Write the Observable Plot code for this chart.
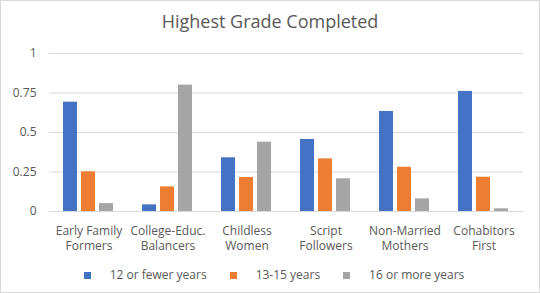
<!DOCTYPE html>
<html>
<head>
<meta charset="utf-8">
<script src="https://cdn.jsdelivr.net/npm/d3@7"></script>
<script src="https://cdn.jsdelivr.net/npm/@observablehq/plot@0.6"></script>
<style>
  html, body { margin: 0; padding: 0; background: #fff; }
  #wrap { position: relative; width: 540px; height: 293px; background: #fff; font-family: "Open Sans", sans-serif; color: #595959; overflow: hidden; }
  #border { position: absolute; left: 0; top: 0; right: 0; bottom: 0; border: 1px solid #d9d9d9; pointer-events: none; }
  #title { position: absolute; left: 0; top: 12px; width: 540px; text-align: center; font-size: 18px; line-height: 18px; color: #595959; }
  #chart { position: absolute; left: 0; top: 40px; }
  #legend { position: absolute; left: 4px; top: 267px; width: 540px; display: flex; justify-content: center; font-size: 12px; line-height: 16px; color: #595959; }
  .item { display: flex; align-items: center; margin: 0 11.5px; }
  .sw { width: 7px; height: 7px; margin-right: 19px; }
</style>
</head>
<body>
<div id="wrap">
  <div id="title">Highest Grade Completed</div>
  <div id="chart"></div>
  <div id="legend"></div>
  <div id="border"></div>
</div>
<script>
const categories = ["Early Family Formers", "College-Educ. Balancers", "Childless Women", "Script Followers", "Non-Married Mothers", "Cohabitors First"];
const seriesNames = ["12 or fewer years", "13-15 years", "16 or more years"];
const twelveOrFewer = [0.692, 0.042, 0.340, 0.456, 0.633, 0.760];
const thirteenToFifteen = [0.251, 0.156, 0.215, 0.333, 0.280, 0.217];
const sixteenOrMore = [0.050, 0.800, 0.439, 0.207, 0.080, 0.017];
const seriesColors = ["#4472C4", "#ED7D31", "#A5A5A5"];
const yTicks = [0, 0.25, 0.5, 0.75, 1];

const seriesValues = [twelveOrFewer, thirteenToFifteen, sixteenOrMore];
const data = [];
categories.forEach((c, i) => {
  seriesNames.forEach((s, j) => {
    data.push({category: c, series: s, value: seriesValues[j][i]});
  });
});

const splitLabel = (s) => {
  const k = s.lastIndexOf(" ");
  return k < 0 ? s : s.slice(0, k) + "\n" + s.slice(k + 1);
};

const chart = Plot.plot({
  width: 540,
  height: 224,
  marginTop: 13,
  marginBottom: 53,
  marginLeft: 47,
  marginRight: 16,
  style: {fontFamily: "'Open Sans', sans-serif", fontSize: "12px", color: "#595959", background: "transparent"},
  fx: {domain: categories, padding: 0, label: null},
  x: {domain: seriesNames, paddingInner: 0.22, paddingOuter: 0.79, axis: null},
  y: {domain: [0, 1], label: null},
  color: {domain: seriesNames, range: seriesColors},
  marks: [
    Plot.gridY(yTicks, {stroke: "#d9d9d9", strokeOpacity: 1, strokeWidth: 1}),
    Plot.axisY(yTicks, {tickSize: 0, tickPadding: 13, tickFormat: d => String(d), fill: "#595959", fontSize: 12, label: null}),
    Plot.axisFx({anchor: "bottom", tickSize: 0, tickPadding: 12, tickFormat: splitLabel, lineHeight: 1.3, fill: "#595959", fontSize: 12, label: null}),
    Plot.barY(data, {fx: "category", x: "series", y: "value", fill: "series"})
  ]
});
document.getElementById("chart").appendChild(chart);

const legend = document.getElementById("legend");
seriesNames.forEach((s, i) => {
  const item = document.createElement("div");
  item.className = "item";
  const sw = document.createElement("span");
  sw.className = "sw";
  sw.style.background = seriesColors[i];
  const t = document.createElement("span");
  t.textContent = s;
  item.appendChild(sw);
  item.appendChild(t);
  legend.appendChild(item);
});
</script>
</body>
</html>
